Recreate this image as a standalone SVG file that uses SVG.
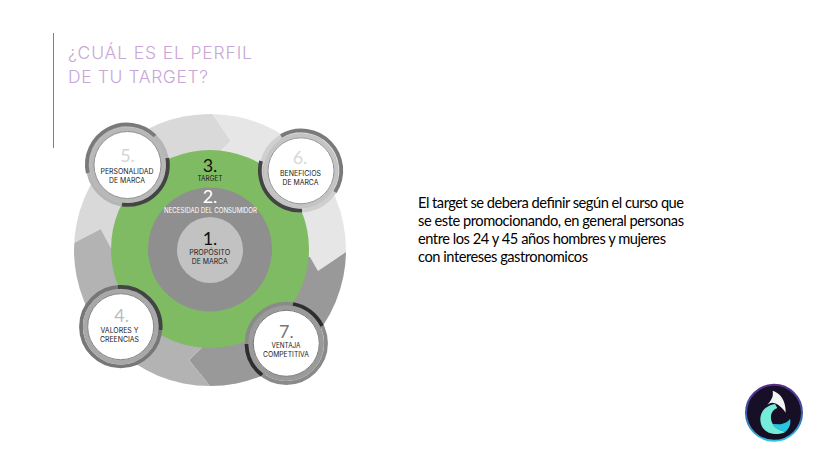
<svg xmlns="http://www.w3.org/2000/svg" width="820" height="452" viewBox="0 0 820 452">
<style>
text{font-family:"Inter","Liberation Sans",sans-serif;text-anchor:middle}
.t{font-weight:300;font-size:17.5px;fill:#c8a6d6;text-anchor:start}
.b{font-size:14.67px;fill:#000;text-anchor:start;font-family:"Lato","Liberation Sans",sans-serif}
.n{font-size:18px;font-weight:400;font-family:"Lato","Liberation Sans",sans-serif}
.l{font-size:7.4px;fill:#222}
.r{fill:none;stroke-width:3.8}
</style>
<defs>
<clipPath id="oc"><circle cx="210" cy="250" r="136"/></clipPath>
<linearGradient id="lg" x1="0" y1="0" x2="0" y2="1"><stop offset="0" stop-color="#5a2a8a"/><stop offset=".5" stop-color="#3a5aa8"/><stop offset="1" stop-color="#2fc6e0"/></linearGradient>
</defs>
<rect width="820" height="452" fill="#fff"/>
<line x1="53.500" y1="33" x2="53.500" y2="148" stroke="#808080" stroke-width="1"/>
<text class="t" x="68" y="59" textLength="184">¿CUÁL ES EL PERFIL</text>
<text class="t" x="68" y="83" textLength="140">DE TU TARGET?</text>
<g id="ring" clip-path="url(#oc)">
<polygon fill="#d9d9d9" points="210,250 112,250 100.700,229 74,243 40,270 40,100 212,100 212,113 231,141 212,160"/>
<polygon fill="#e6e6e6" points="210,250 212,160 231,141 212,113 212,100 370,100 370,232 346,252 318,271 310,257"/>
<polygon fill="#999999" points="210,250 310,257 318,271 346,252 370,232 370,400 210,400 210,386 189,360 210,340"/>
<polygon fill="#b3b3b3" points="210,250 210,340 189,360 210,386 210,400 40,400 40,270 74,243 100.700,229 112,250"/>
</g>
<g id="n3"><circle cx="210" cy="249" r="99" fill="#7fbb63"/>
<text x="210" y="171.700" class="n" fill="#111">3.</text><text x="210" y="181" class="l" textLength="25" lengthAdjust="spacingAndGlyphs">TARGET</text></g>
<g id="n2"><circle cx="210" cy="249.500" r="62" fill="#8f8f8f"/>
<text x="210" y="203.300" class="n" fill="#fff">2.</text><text x="210.500" y="213.300" font-size="7.400" fill="#fff" textLength="93" lengthAdjust="spacingAndGlyphs">NECESIDAD DEL CONSUMIDOR</text></g>
<g id="n1"><circle cx="210" cy="250" r="33" fill="#c2c2c2"/>
<text x="210" y="245" class="n" fill="#111">1.</text><text x="209.700" y="255" class="l" textLength="41" lengthAdjust="spacingAndGlyphs">PROPÓSITO</text><text x="209.700" y="264.300" class="l" textLength="36" lengthAdjust="spacingAndGlyphs">DE MARCA</text></g>
<g id="n5">
<circle cx="127.500" cy="165" r="39.700" class="r" stroke="#b5b5b5"/>
<path d="M87.800 173A40 40 0 0 1 155 136" class="r" stroke="#7a7a7a"/>
<path d="M167.300 158A40 40 0 0 1 122 204.500" class="r" stroke="#444"/>
<circle cx="127.500" cy="165" r="35.800" fill="#fff" stroke="#b8b8b8" stroke-width="4.400"/>
<circle cx="127.500" cy="165" r="33.500" fill="#fff" stroke="#777" stroke-width=".8"/>
<text x="127.500" y="162" class="n" fill="#d4d4d4">5.</text>
<text x="127" y="174" class="l" textLength="53" lengthAdjust="spacingAndGlyphs">PERSONALIDAD</text><text x="127" y="182.700" class="l" textLength="36" lengthAdjust="spacingAndGlyphs">DE MARCA</text></g>
<g id="n6">
<circle cx="301" cy="170.800" r="39.700" class="r" stroke="#cfcfcf"/>
<path d="M281 136A40 40 0 0 1 335 192" class="r" stroke="#7a7a7a"/>
<path d="M261 161A40 40 0 0 0 302 210.500" class="r" stroke="#444"/>
<circle cx="301" cy="170.800" r="35.500" fill="#fff" stroke="#c4c4c4" stroke-width="4.400"/>
<circle cx="301" cy="170.800" r="33" fill="#fff" stroke="#777" stroke-width=".8"/>
<text x="300" y="163.500" class="n" fill="#d8d8d8">6.</text>
<text x="300.500" y="176.300" class="l" textLength="41" lengthAdjust="spacingAndGlyphs">BENEFICIOS</text><text x="300.500" y="185" class="l" textLength="36" lengthAdjust="spacingAndGlyphs">DE MARCA</text></g>
<g id="n4">
<circle cx="120.700" cy="326.700" r="39.700" class="r" stroke="#777"/>
<path d="M118 287A40 40 0 0 1 160.500 330" class="r" stroke="#444"/>
<circle cx="120.700" cy="326.700" r="35.500" fill="#fff" stroke="#a8a8a8" stroke-width="4.600"/>
<circle cx="120.700" cy="326.700" r="33" fill="#fff" stroke="#666" stroke-width=".8"/>
<text x="121.700" y="322.300" class="n" fill="#bcbcbc">4.</text>
<text x="119.500" y="333.300" class="l" textLength="38" lengthAdjust="spacingAndGlyphs">VALORES Y</text><text x="119.500" y="342.300" class="l" textLength="39" lengthAdjust="spacingAndGlyphs">CREENCIAS</text></g>
<g id="n7">
<circle cx="286.300" cy="343.300" r="39.700" class="r" stroke="#8a8a8a"/>
<path d="M293 304A40 40 0 0 1 322 326" class="r" stroke="#2e2e2e"/>
<path d="M246.500 344A40 40 0 0 0 262 375" class="r" stroke="#2e2e2e"/>
<circle cx="286.300" cy="343.300" r="35.500" fill="#fff" stroke="#9a9a9a" stroke-width="4.400"/>
<circle cx="286.300" cy="343.300" r="33" fill="#fff" stroke="#555" stroke-width=".8"/>
<text x="286.300" y="337.700" class="n" fill="#777">7.</text>
<text x="286" y="347.700" class="l" textLength="29" lengthAdjust="spacingAndGlyphs">VENTAJA</text><text x="286" y="357.300" class="l" textLength="46" lengthAdjust="spacingAndGlyphs">COMPETITIVA</text></g>
<g id="copy">
<text class="b" x="418" y="207.700" textLength="266">El target se debera definir según el curso que</text>
<text class="b" x="418" y="225.700" textLength="266">se este promocionando, en general personas</text>
<text class="b" x="418" y="243.700" textLength="248">entre los 24 y 45 años hombres y mujeres</text>
<text class="b" x="418" y="261.700" textLength="170">con intereses gastronomicos</text>
</g>
<g id="logo">
<circle cx="774" cy="412.800" r="28" fill="#170f26" stroke="url(#lg)" stroke-width="2"/>
<g transform="translate(730 370) scale(.3333)">
<path fill="#f2f5f4" d="M128 62C148 68 168 88 167 128C158 115 148 105 135 100C125 96 117 100 112 106C120 92 132 84 128 62Z"/>
<path fill="#73ecd9" d="M135 102C108 106 90 125 91 150C92 175 110 191 135 192C148 192 160 189 168 185C148 182 130 172 124 152C120 136 126 120 142 114C140 110 137 106 135 102Z"/>
<path fill="#27c8de" d="M180 146C174 156 160 162 148 163L128 162C134 174 146 182 166 185C178 176 184 160 180 146Z"/>
</g></g>
</svg>
